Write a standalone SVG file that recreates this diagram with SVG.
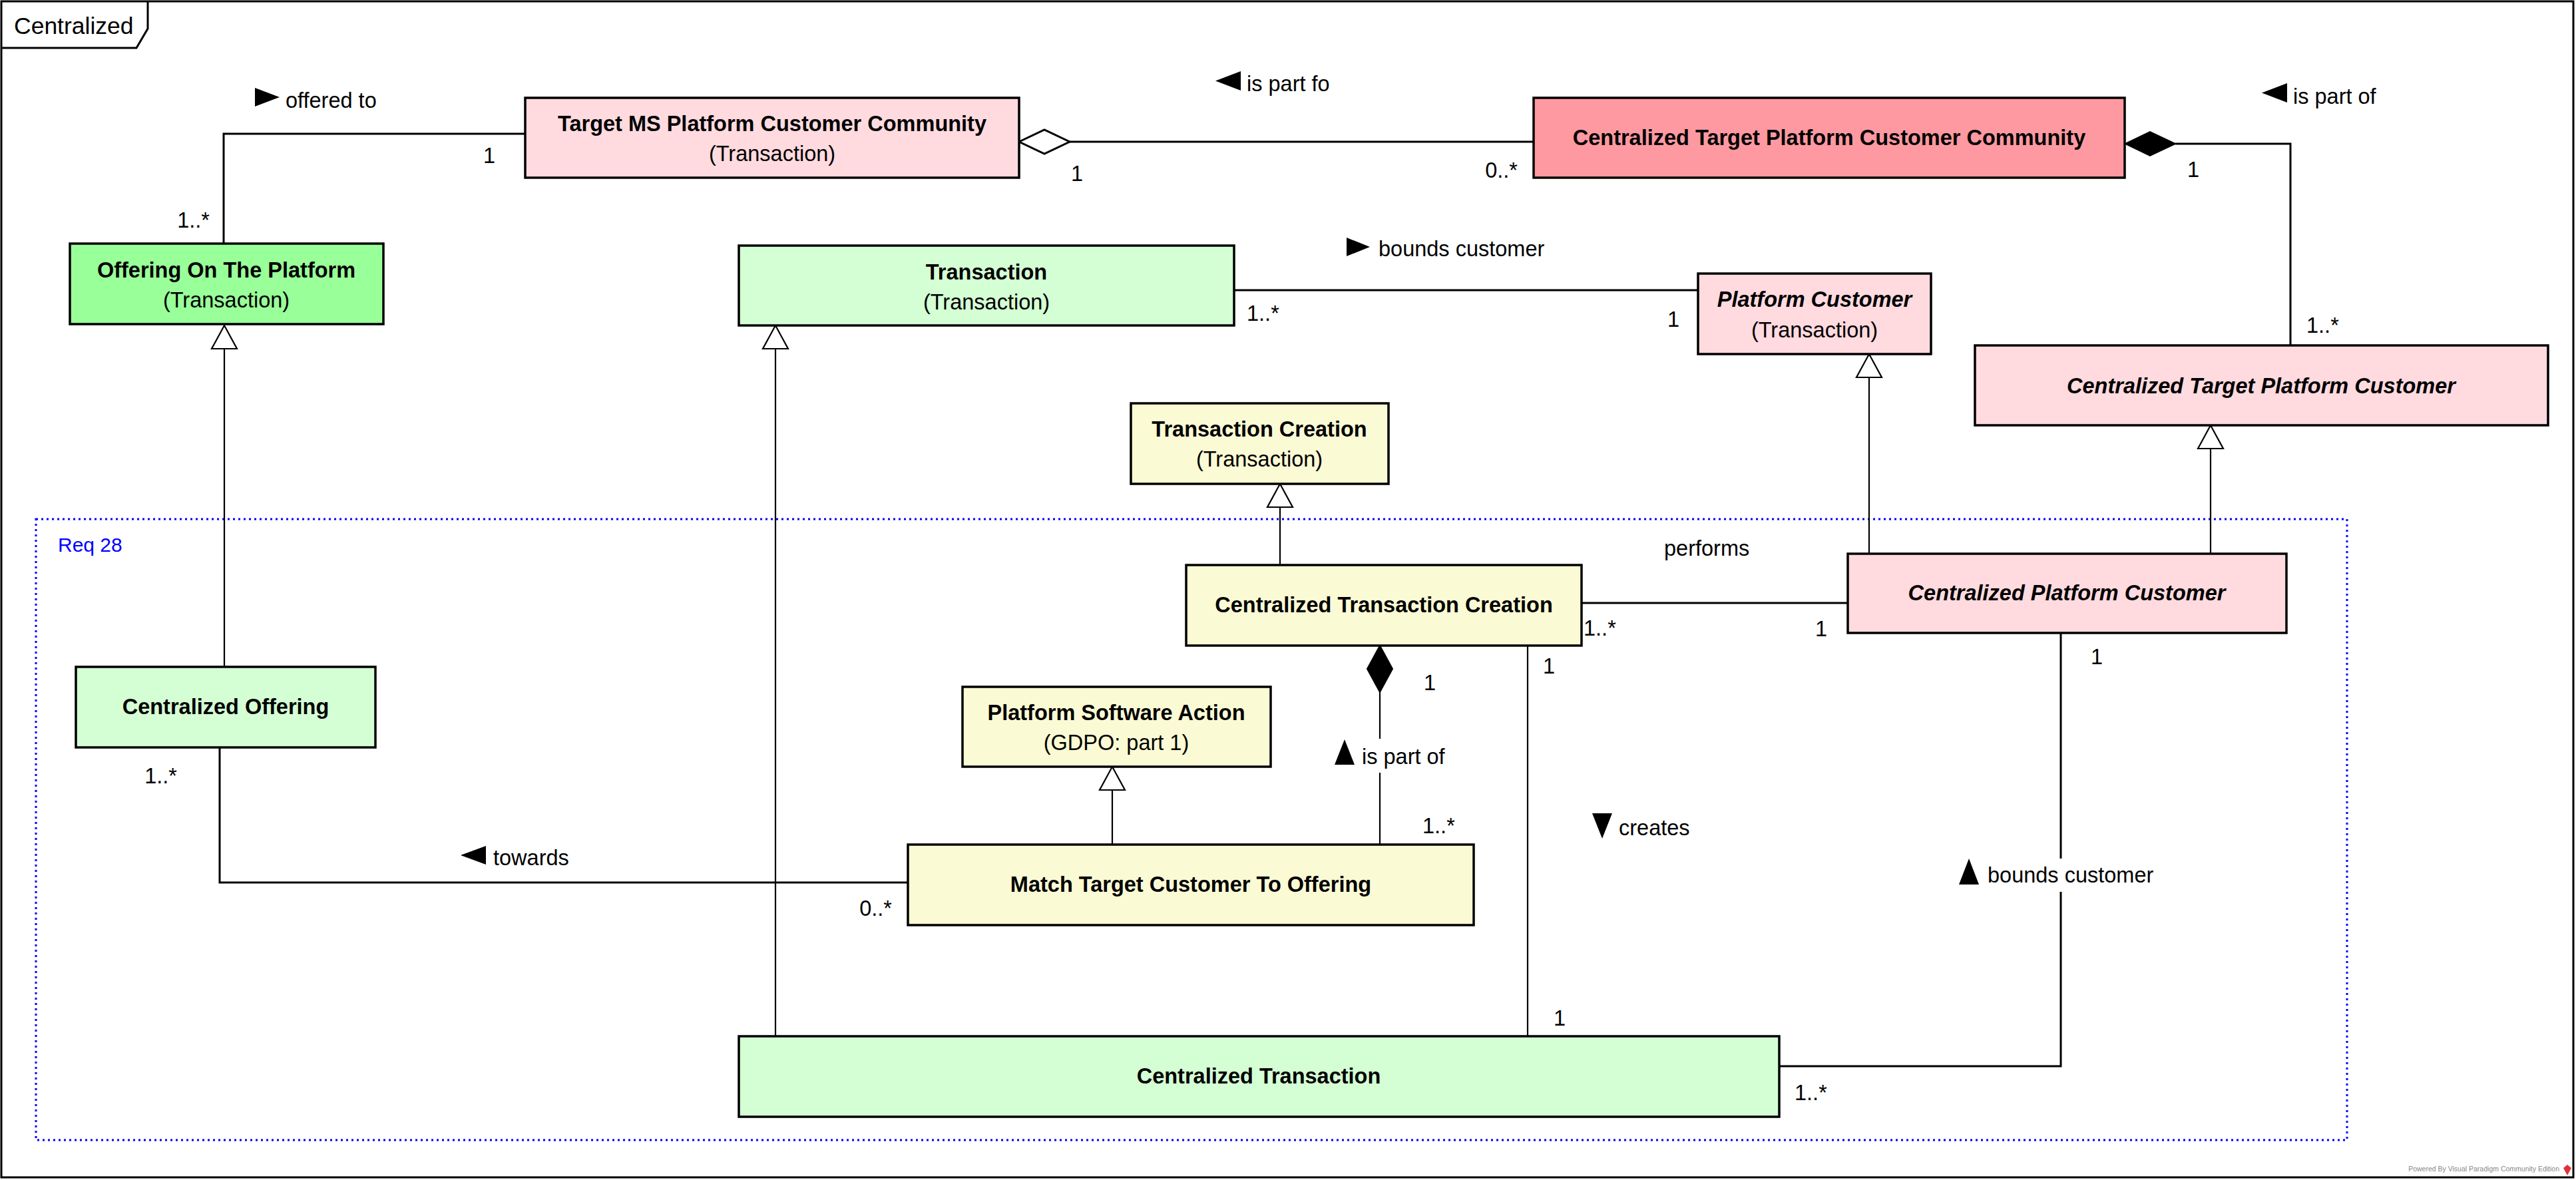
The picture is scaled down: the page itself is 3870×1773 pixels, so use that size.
<svg xmlns="http://www.w3.org/2000/svg" width="3870" height="1773" viewBox="0 0 3870 1773">
  <style>
    text { font-family: "Liberation Sans", Arial, sans-serif; fill: #000; }
    .title { font-size: 32.5px; font-weight: bold; text-anchor: middle; }
    .italic { font-style: italic; }
    .sub { font-size: 32.5px; text-anchor: middle; }
    .lbl { font-size: 32.5px; }
    .end { text-anchor: end; }
    .box { stroke: #000; stroke-width: 3.5; }
    .green { fill: #99FF99; }
    .lgreen { fill: #D4FFD4; }
    .pink { fill: #FFDADF; }
    .salmon { fill: #FF99A1; }
    .yellow { fill: #FAFAD4; }
    .assoc { fill: none; stroke: #000; stroke-width: 3; }
    .gen { fill: none; stroke: #000; stroke-width: 2.2; }
    .genhead { fill: #fff; stroke: #000; stroke-width: 2.2; }
    .hollow { fill: #fff; stroke: #000; stroke-width: 3; }
    .solid { fill: #000; stroke: #000; stroke-width: 2; }
    .dir { fill: #000; }
  </style>

  <rect x="0" y="0" width="3870" height="1773" fill="#fff"/>

  <!-- diagram frame -->
  <g id="frame">
    <rect x="2" y="2" width="3864" height="1767" fill="none" stroke="#000" stroke-width="3"/>
    <path d="M2,72 L205,72 L222,43 L222,2" fill="none" stroke="#000" stroke-width="3"/>
    <text x="21" y="51" style="font-size:35.5px">Centralized</text>
  </g>

  <!-- requirement boundary -->
  <g id="req28">
    <rect x="54" y="780" width="3472" height="933" fill="none" stroke="#0000FF" stroke-width="3" stroke-dasharray="3,5"/>
    <text x="87" y="829" style="font-size:30px;fill:#0000FF">Req 28</text>
  </g>

  <!-- connectors -->
  <g id="connectors">
    <!-- offered to -->
    <polyline class="assoc" points="336,366 336,201 789,201"/>
    <text class="lbl end" x="315" y="342">1..*</text>
    <text class="lbl" x="726" y="245">1</text>
    <polygon class="dir" points="383,132 383,160 420,146"/>
    <text class="lbl" x="429" y="162">offered to</text>

    <!-- is part fo (aggregation) -->
    <line class="assoc" x1="1607" y1="213" x2="2304" y2="213"/>
    <polygon class="hollow" points="1531,213 1569,195 1607,213 1569,231"/>
    <text class="lbl" x="1609" y="272">1</text>
    <text class="lbl end" x="2280" y="267">0..*</text>
    <polygon class="dir" points="1864,107 1864,136 1826,121.5"/>
    <text class="lbl" x="1873" y="137">is part fo</text>

    <!-- is part of (composition, top right) -->
    <polyline class="assoc" points="3268,216 3441,216 3441,519"/>
    <polygon class="solid" points="3193,216 3230,198 3268,216 3230,234"/>
    <text class="lbl" x="3286" y="266">1</text>
    <text class="lbl" x="3465" y="500">1..*</text>
    <polygon class="dir" points="3436,125 3436,154 3398,139.5"/>
    <text class="lbl" x="3445" y="156">is part of</text>

    <!-- bounds customer (top) -->
    <line class="assoc" x1="1854" y1="436" x2="2551" y2="436"/>
    <text class="lbl" x="1873" y="482">1..*</text>
    <text class="lbl" x="2505" y="491">1</text>
    <polygon class="dir" points="2023,357 2023,385 2058,371"/>
    <text class="lbl" x="2071" y="385">bounds customer</text>

    <!-- generalizations -->
    <line class="gen" x1="337" y1="524" x2="337" y2="1002"/>
    <polygon class="genhead" points="337,489 318,524 356,524"/>

    <line class="gen" x1="1165" y1="524" x2="1165" y2="1557"/>
    <polygon class="genhead" points="1165,489 1146,524 1184,524"/>

    <line class="gen" x1="1923" y1="762" x2="1923" y2="849"/>
    <polygon class="genhead" points="1923,727 1904,762 1942,762"/>

    <line class="gen" x1="1671" y1="1187" x2="1671" y2="1269"/>
    <polygon class="genhead" points="1671,1152 1652,1187 1690,1187"/>

    <line class="gen" x1="2808" y1="567" x2="2808" y2="832"/>
    <polygon class="genhead" points="2808,532 2789,567 2827,567"/>

    <line class="gen" x1="3321" y1="674" x2="3321" y2="832"/>
    <polygon class="genhead" points="3321,639 3302,674 3340,674"/>

    <!-- performs -->
    <line class="assoc" x1="2376" y1="906" x2="2776" y2="906"/>
    <text class="lbl" x="2500" y="835">performs</text>
    <text class="lbl" x="2379" y="955">1..*</text>
    <text class="lbl" x="2727" y="956">1</text>

    <!-- is part of (composition, centre) -->
    <line class="gen" x1="2073" y1="1040" x2="2073" y2="1269"/>
    <polygon class="solid" points="2073,970 2092,1005 2073,1040 2054,1005"/>
    <text class="lbl" x="2139" y="1037">1</text>
    <text class="lbl" x="2137" y="1252">1..*</text>
    <rect x="2000" y="1110" width="178" height="51" fill="#fff"/>
    <polygon class="dir" points="2005,1149 2035,1149 2020,1111"/>
    <text class="lbl" x="2046" y="1148">is part of</text>

    <!-- creates -->
    <line class="gen" x1="2295" y1="970" x2="2295" y2="1557"/>
    <text class="lbl" x="2318" y="1012">1</text>
    <text class="lbl" x="2334" y="1541">1</text>
    <polygon class="dir" points="2392,1222 2422,1222 2407,1260"/>
    <text class="lbl" x="2432" y="1255">creates</text>

    <!-- towards -->
    <polyline class="assoc" points="330,1123 330,1326 1364,1326"/>
    <text class="lbl end" x="266" y="1177">1..*</text>
    <text class="lbl end" x="1340" y="1376">0..*</text>
    <polygon class="dir" points="730,1271 730,1299 692,1285"/>
    <text class="lbl" x="741" y="1300">towards</text>

    <!-- bounds customer (bottom) -->
    <polyline class="assoc" points="3096,951 3096,1602 2673,1602"/>
    <text class="lbl" x="3141" y="998">1</text>
    <text class="lbl" x="2696" y="1653">1..*</text>
    <rect x="2938" y="1290" width="306" height="50" fill="#fff"/>
    <polygon class="dir" points="2943,1329 2973,1329 2958,1290"/>
    <text class="lbl" x="2986" y="1326">bounds customer</text>
  </g>

  <!-- classes -->
  <g id="target-ms-community">
    <rect class="box pink" x="789" y="147" width="742" height="120"/>
    <text class="title" x="1160" y="197">Target MS Platform Customer Community</text>
    <text class="sub" x="1160" y="242">(Transaction)</text>
  </g>

  <g id="centralized-target-community">
    <rect class="box salmon" x="2304" y="147" width="888" height="120"/>
    <text class="title" x="2748" y="218">Centralized Target Platform Customer Community</text>
  </g>

  <g id="offering-on-platform">
    <rect class="box green" x="105" y="366" width="471" height="121"/>
    <text class="title" x="340" y="417">Offering On The Platform</text>
    <text class="sub" x="340" y="462">(Transaction)</text>
  </g>

  <g id="transaction">
    <rect class="box lgreen" x="1110" y="369" width="744" height="120"/>
    <text class="title" x="1482" y="420">Transaction</text>
    <text class="sub" x="1482" y="465">(Transaction)</text>
  </g>

  <g id="platform-customer">
    <rect class="box pink" x="2551" y="411" width="350" height="121"/>
    <text class="title italic" x="2726" y="461">Platform Customer</text>
    <text class="sub" x="2726" y="507">(Transaction)</text>
  </g>

  <g id="centralized-target-customer">
    <rect class="box pink" x="2967" y="519" width="861" height="120"/>
    <text class="title italic" x="3397" y="591">Centralized Target Platform Customer</text>
  </g>

  <g id="transaction-creation">
    <rect class="box yellow" x="1699" y="606" width="387" height="121"/>
    <text class="title" x="1892" y="656">Transaction Creation</text>
    <text class="sub" x="1892" y="701">(Transaction)</text>
  </g>

  <g id="centralized-transaction-creation">
    <rect class="box yellow" x="1782" y="849" width="594" height="121"/>
    <text class="title" x="2079" y="920">Centralized Transaction Creation</text>
  </g>

  <g id="centralized-platform-customer">
    <rect class="box pink" x="2776" y="832" width="659" height="119"/>
    <text class="title italic" x="3105" y="902">Centralized Platform Customer</text>
  </g>

  <g id="centralized-offering">
    <rect class="box lgreen" x="114" y="1002" width="450" height="121"/>
    <text class="title" x="339" y="1073">Centralized Offering</text>
  </g>

  <g id="platform-software-action">
    <rect class="box yellow" x="1446" y="1032" width="463" height="120"/>
    <text class="title" x="1677" y="1082">Platform Software Action</text>
    <text class="sub" x="1677" y="1127">(GDPO: part 1)</text>
  </g>

  <g id="match-target-customer">
    <rect class="box yellow" x="1364" y="1269" width="850" height="121"/>
    <text class="title" x="1789" y="1340">Match Target Customer To Offering</text>
  </g>

  <g id="centralized-transaction">
    <rect class="box lgreen" x="1110" y="1557" width="1563" height="121"/>
    <text class="title" x="1891" y="1628">Centralized Transaction</text>
  </g>

  <!-- editor credit -->
  <g id="credit">
    <text x="3845" y="1760" style="font-size:10.5px;fill:#888;text-anchor:end">Powered By Visual Paradigm Community Edition</text>
    <path d="M3857,1750 L3863,1755 L3857,1766 L3851,1755 Z" fill="#E0303A"/>
  </g>
</svg>
